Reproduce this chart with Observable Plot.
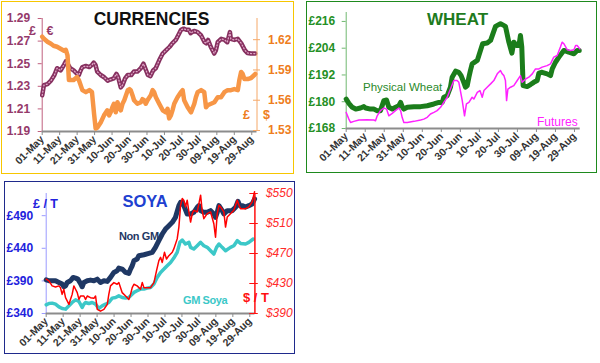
<!DOCTYPE html>
<html><head><meta charset="utf-8">
<script src="https://cdn.jsdelivr.net/npm/d3@7"></script>
<script src="https://cdn.jsdelivr.net/npm/@observablehq/plot@0.6"></script>
<style>
html,body{margin:0;padding:0;background:#fff;width:600px;height:363px;overflow:hidden;font-family:"Liberation Sans",Arial,sans-serif;}
#root{position:relative;width:600px;height:363px;}
.panel{position:absolute;box-sizing:border-box;}
</style></head><body>
<div id="root"></div>
<script>
// ---------- DATA (day = days since 1 May 2012) ----------
const xTicks = ["2012-05-01","2012-05-11","2012-05-21","2012-05-31","2012-06-10","2012-06-20","2012-06-30","2012-07-10","2012-07-20","2012-07-30","2012-08-09","2012-08-19","2012-08-29"];

const eurTicks = [1.19,1.21,1.23,1.25,1.27,1.29];
const usdTicks = [1.53,1.56,1.59,1.62];
const wheatTicks = [168,180,192,204,216];
const soyaGbpTicks = [340,390,440,490];
const soyaUsdTicks = [390,430,470,510,550];

const eurGbp = [[0,1.222],[1,1.231],[3,1.232],[5,1.235],[7,1.240],[8.5,1.246],[10.5,1.244],[12.5,1.249],[13.5,1.252],[14.5,1.250],[16,1.246],[18,1.244],[20,1.241],[21,1.240],[22,1.244],[23,1.247],[25,1.248],[27,1.247],[28.5,1.249],[29.5,1.251],[30.5,1.249],[31.5,1.243],[33.5,1.240],[35.5,1.238],[37.5,1.235],[39,1.236],[41,1.237],[42.5,1.241],[43.5,1.238],[45,1.229],[46,1.231],[47.5,1.237],[49,1.240],[51,1.240],[52.5,1.243],[54.5,1.243],[56.5,1.246],[58,1.250],[59.5,1.244],[60.5,1.240],[62,1.239],[63.5,1.244],[65,1.246],[67,1.253],[69,1.259],[71,1.262],[73,1.265],[74.5,1.268],[76.5,1.271],[78.5,1.277],[79.5,1.280],[81,1.281],[82.5,1.280],[84,1.280],[85,1.277],[87,1.279],[89,1.278],[91,1.275],[93,1.269],[94,1.268],[95,1.271],[96.5,1.265],[98.5,1.259],[99.5,1.262],[100.5,1.269],[102.5,1.272],[104.5,1.271],[106,1.269],[107.5,1.278],[108,1.272],[110,1.271],[112,1.272],[114,1.268],[116,1.262],[117.5,1.2595],[119.5,1.259],[122,1.259]];

const usdGbp = [[0,1.623],[1,1.621],[3,1.618],[5,1.616],[6.5,1.614],[8.5,1.613],[10.5,1.611],[12.5,1.609],[13.5,1.610],[14.5,1.6045],[15.3,1.580],[16.3,1.580],[18,1.580],[20,1.583],[21,1.580],[23,1.570],[25,1.568],[27,1.570],[28.5,1.568],[29.7,1.5465],[30.6,1.532],[31.6,1.533],[33.5,1.538],[35.4,1.545],[37.3,1.550],[38.3,1.545],[39.2,1.548],[40.2,1.553],[41.1,1.5565],[42.1,1.548],[43.1,1.558],[44,1.553],[45,1.550],[46,1.5565],[47,1.560],[48,1.565],[49,1.570],[50,1.571],[50.7,1.570],[51.7,1.565],[52.6,1.560],[54.5,1.5565],[56.5,1.558],[57.4,1.561],[58.4,1.560],[59.3,1.5565],[60.3,1.560],[62.2,1.565],[63.2,1.570],[64.1,1.568],[65.1,1.563],[67,1.5565],[69,1.550],[70.8,1.548],[71.8,1.5515],[72.7,1.542],[73.7,1.545],[74.6,1.550],[75.6,1.5565],[76.6,1.560],[77.5,1.563],[79.4,1.568],[80.4,1.570],[81.3,1.560],[83.3,1.553],[85.2,1.548],[87.1,1.5565],[88,1.563],[89,1.568],[91,1.570],[92.8,1.568],[93.8,1.553],[94.7,1.555],[96.7,1.5565],[98.6,1.558],[100.5,1.563],[102.4,1.563],[104.3,1.568],[106.2,1.570],[108.1,1.570],[110,1.571],[112,1.570],[112.9,1.580],[113.9,1.588],[114.8,1.586],[115.8,1.581],[117.7,1.581],[119.6,1.582],[121.5,1.585],[122,1.586]];

const wheatPhysical = [[0,181.2],[1.4,179.3],[3.2,177.5],[5,176.7],[7.5,177.2],[9.3,177.8],[10.2,177.2],[12.8,176.7],[14.5,176.7],[16.3,176.0],[18,176.0],[19.8,180.5],[21.2,180.8],[22.4,177.5],[24.2,176.7],[26,177.5],[27.7,178.2],[28.6,179.7],[29.4,177.8],[30.3,176.7],[32.1,177.5],[35.6,177.8],[39.1,177.8],[42.6,178.2],[46.1,179.0],[48.7,179.7],[50.5,179.7],[51.3,182.0],[53.1,182.7],[54.8,186.5],[55.7,191.0],[57.5,193.7],[59.2,193.2],[60.4,191.7],[61.8,188.7],[62.7,186.5],[63.6,187.2],[64.5,191.0],[65.3,194.0],[66.2,197.0],[68.9,198.5],[71.7,206.0],[74.1,206.3],[75.9,207.5],[78.5,213.8],[81.1,215.0],[83.7,213.8],[85.5,206.7],[87.1,201.8],[88.1,206.7],[89.5,205.2],[90.8,205.2],[91.6,209.7],[92.3,204.5],[93,187.2],[95.1,186.8],[96.9,187.7],[98.6,188.7],[100.4,189.5],[101.3,192.8],[103,193.2],[105.6,192.5],[107.4,191.7],[108.3,194.7],[110,197.7],[111.8,200.0],[114.4,203.0],[117,202.2],[119.7,201.5],[121.4,203.0],[122.5,203.0]];

const wheatFutures = [[0,175.2],[1.4,172.2],[2.3,170.7],[4,171.2],[6.7,171.8],[11,171.9],[14.5,171.8],[15.4,171.5],[16.3,173.7],[18,176.0],[19.8,177.2],[21.2,176.7],[22.4,173.7],[24.2,174.8],[25.9,176.0],[27.7,177.2],[28.6,176.0],[29.4,173.0],[30.3,170.7],[32.1,170.7],[35.6,171.2],[39.1,171.8],[40.8,172.2],[42.6,173.0],[44.3,174.5],[46.1,175.2],[47.8,176.0],[49.6,177.5],[51.3,179.7],[53.1,182.0],[54.8,185.7],[56.6,189.5],[58.3,189.5],[59.2,188.7],[61,180.5],[62.2,173.7],[63.2,179.0],[64.5,179.7],[66.2,182.0],[67.1,181.2],[68.9,184.2],[70.3,185.0],[71.5,182.0],[72.4,185.0],[74.1,186.5],[75.9,188.0],[77.6,189.5],[79.4,192.5],[81.1,194.0],[82,192.5],[82.9,191.7],[83.7,189.5],[84.3,180.5],[85,185.7],[86.4,186.5],[88.1,187.2],[89.9,189.5],[91.6,191.7],[92.5,188.7],[94.3,190.2],[96,191.0],[97.8,192.5],[99.5,194.7],[101.3,194.7],[103,195.5],[105.6,196.2],[107.4,197.0],[109.1,200.0],[110.9,200.7],[112.6,204.5],[113.5,206.7],[114.4,206.0],[116.2,203.3],[117.9,203.0],[119.7,203.3],[120.6,205.2],[121.4,205.2],[122.8,203.7]];

const soyaNonGM = [[0,391.7],[1.6,390.2],[3.5,390.2],[5.5,390.2],[7.5,387.6],[9.4,385.1],[10.4,381.0],[11.4,382.5],[12.4,387.6],[14.3,390.2],[15.9,395.3],[17.3,394.3],[18.7,392.7],[20.2,386.1],[21.2,381.0],[22.2,387.6],[24.2,390.2],[26.1,391.2],[28.1,390.2],[30.1,392.7],[32,387.6],[34,390.2],[36,389.2],[37.9,395.3],[39.9,403.0],[41.8,405.5],[42.8,409.6],[44.8,408.1],[46.8,403.0],[48.7,401.4],[49.7,408.1],[50.7,413.2],[51.7,420.9],[53.6,423.5],[54.6,428.6],[57.6,430.1],[60.5,432.2],[62.5,433.7],[64.4,441.4],[66.4,451.6],[68.4,461.9],[70.3,469.5],[72.3,474.7],[74.3,479.8],[76.2,487.5],[78.2,505.4],[79.2,510.5],[80.2,510.5],[81.1,505.4],[83.1,492.6],[85.1,492.6],[87,495.1],[89,502.8],[90,505.4],[91,497.7],[92.9,495.1],[94.9,495.1],[96.9,497.7],[98.8,492.6],[99.8,487.5],[100.8,495.1],[101.8,505.4],[103.7,497.7],[104.7,492.6],[106.7,497.7],[109.6,497.7],[111.6,502.8],[113,512.0],[114.1,505.4],[115.5,505.4],[117.5,503.3],[119.4,505.4],[121.4,507.9],[122.8,515.6]];

const soyaGM = [[0,353.3],[1.6,355.4],[3.5,355.9],[5.5,354.3],[7.5,350.2],[9.4,347.7],[11.4,346.7],[13.4,351.8],[15.3,356.9],[17.3,361.0],[19.3,358.4],[21.2,349.2],[22.2,354.3],[23.2,356.9],[25.1,355.4],[27.1,356.9],[29.1,354.3],[31,347.7],[33,351.8],[35,354.3],[36.9,356.9],[38.9,363.6],[40.9,364.6],[42.8,367.1],[44.8,364.6],[46.8,363.6],[48.7,364.6],[49.7,367.1],[51.7,372.3],[53.6,374.8],[55.6,377.4],[57.6,377.4],[59.5,378.9],[61.5,379.9],[63.5,385.1],[65.4,395.3],[67.4,403.0],[69.4,408.1],[71.3,413.2],[73.3,418.3],[75.2,425.0],[77.2,433.7],[78.8,449.1],[80.2,452.6],[82.1,446.5],[84.1,449.1],[85.1,441.4],[87,438.8],[89,443.9],[91,449.1],[92.9,443.9],[94.9,441.4],[96.9,436.3],[98.8,431.1],[100.4,441.4],[101.8,446.5],[103.7,441.4],[105.7,436.3],[108.6,441.4],[110.6,443.9],[112.6,451.6],[114.5,447.5],[117.5,446.5],[119.4,449.1],[122,454.2]];

const soyaUsd = [[0,435.7],[1.6,433.5],[3.5,426.8],[5.5,425.4],[7.5,426.8],[8.4,424.5],[9.4,415.5],[10.4,422.3],[11.4,411.1],[13.4,402.1],[14.3,408.8],[15.3,415.5],[16.3,426.8],[17.3,422.3],[18.3,417.8],[19.3,408.8],[20.2,413.3],[22.2,413.3],[23.2,408.8],[24.2,413.3],[26.1,411.1],[28.1,410.2],[29.1,413.3],[30.1,395.4],[32,393.1],[34,395.4],[36,402.1],[36.9,415.5],[37.9,426.8],[39.9,431.2],[41.8,429.0],[42.8,431.2],[44.8,417.8],[46.8,413.3],[48.7,408.8],[49.7,415.5],[50.7,424.5],[51.7,429.0],[53.6,426.8],[55.6,422.3],[56.6,431.2],[57.6,424.5],[59.5,424.5],[61.5,424.5],[63.5,431.2],[65,446.9],[66.4,460.4],[67.4,464.9],[68.4,458.1],[69.7,471.6],[70.9,462.6],[72.3,467.1],[74.3,471.6],[75.2,476.1],[77.2,489.5],[78.2,505.2],[79.2,534.3],[80.2,543.3],[81.1,541.1],[82.1,532.1],[83.1,541.1],[84.1,525.4],[85.1,511.9],[86.1,523.1],[87,527.6],[89,525.4],[90,536.6],[91,547.8],[91.9,527.6],[92.9,516.4],[94.9,523.1],[96.9,525.4],[98.8,509.7],[99.8,491.7],[100.8,523.1],[101.8,534.3],[102.8,532.1],[104.7,525.4],[105.7,505.2],[106.7,518.6],[108.6,523.1],[110.6,527.6],[112.6,541.1],[113.6,534.3],[114.5,529.8],[117.5,529.8],[119.4,532.1],[121.4,538.8],[122.8,552.3]];

// ---------- HELPERS ----------
const root = document.getElementById("root");
const t0 = Date.UTC(2012, 4, 1);
const rows = a => a.map(([d, v]) => ({date: new Date(t0 + d * 864e5), value: v}));
const xDomain = [new Date(t0), new Date(Date.UTC(2012, 8, 1))];
const tickDates = xTicks.map(s => new Date(s + "T00:00:00Z"));
const FONT = '"Liberation Sans", Arial, sans-serif';

function panel(left, top, w, h, color) {
  const d = document.createElement("div");
  d.className = "panel";
  Object.assign(d.style, {left: left + "px", top: top + "px", width: w + "px", height: h + "px", border: "1.5px solid " + color});
  root.appendChild(d);
}
function place(svg, left, top) {
  Object.assign(svg.style, {position: "absolute", left: left + "px", top: top + "px", background: "transparent", overflow: "visible", maxWidth: "none"});
  root.appendChild(svg);
}
function xAxis() {
  return Plot.axisX({ticks: tickDates, tickFormat: d3.utcFormat("%d-%b"), tickRotate: -45, tickSize: 4, tickPadding: 2,
    stroke: "#8c8c8c", fill: "#333", fontWeight: "bold", fontSize: 10.5, fontFamily: FONT, label: null});
}

// panel borders
panel(1, 1, 293, 172.5, "#f7c600");
panel(305.5, 1, 291, 171.5, "#1e8a1e");
panel(3.5, 180.5, 291, 173.5, "#1f2a8c");

// ---------- CURRENCIES ----------
const curDom = [1.19, 1.29];
const usdDom = [1.529, 1.641];
const curBox = {width: 300, height: 180, marginLeft: 41.7, marginRight: 43.5, marginTop: 18, marginBottom: 49};
place(Plot.plot({
  ...curBox, style: {fontFamily: FONT},
  x: {type: "utc", domain: xDomain, label: null},
  y: {domain: curDom, label: null},
  marks: [
    Plot.ruleX([xDomain[0]], {y1: curDom[0], y2: curDom[1], stroke: "#c0607f"}),
    Plot.axisY({ticks: eurTicks, tickFormat: d3.format(".2f"), tickSize: 4, tickPadding: 8, stroke: "#c0607f",
      fill: "#953a6a", fontWeight: "bold", fontSize: 12, fontFamily: FONT, label: null}),
    Plot.ruleY([curDom[0]], {stroke: "#8c8c8c", strokeWidth: 2}),
    xAxis(),
    Plot.line(rows(eurGbp), {x: "date", y: "value", stroke: "#86305f", strokeWidth: 4.5, strokeLinejoin: "round"}),
    Plot.line(rows(eurGbp), {x: "date", y: "value", stroke: "#e0a6c8", strokeWidth: 1.3, strokeDasharray: "1 2.2"})
  ]
}), 0, 0);
place(Plot.plot({
  ...curBox, style: {fontFamily: FONT},
  x: {type: "utc", domain: xDomain, axis: null, label: null},
  y: {domain: usdDom, label: null},
  marks: [
    Plot.ruleX([xDomain[1]], {y1: usdDom[0], y2: usdDom[1], stroke: "#f5a868"}),
    Plot.ruleY(usdTicks, {x1: d3.utcDay.offset(xDomain[1], -2), x2: d3.utcDay.offset(xDomain[1], 2), stroke: "#f5a868"}),
    Plot.axisY({anchor: "right", ticks: usdTicks, tickFormat: d3.format(".2f"), tickSize: 0, tickPadding: 11,
      fill: "#ee7d20", fontWeight: "bold", fontSize: 12, fontFamily: FONT, label: null}),
    Plot.line(rows(usdGbp), {x: "date", y: "value", stroke: "#f79646", strokeWidth: 4.5, strokeLinejoin: "round"})
  ]
}), 0, 0);

// ---------- WHEAT ----------
const wheatDom = [168, 220];
place(Plot.plot({
  width: 300, height: 180, marginLeft: 45.7, marginRight: 20.3, marginTop: 12, marginBottom: 52,
  style: {fontFamily: FONT},
  x: {type: "utc", domain: xDomain, label: null},
  y: {domain: wheatDom, label: null},
  marks: [
    Plot.ruleX([xDomain[0]], {y1: wheatDom[0], y2: wheatDom[1], stroke: "#70b870"}),
    Plot.axisY({ticks: wheatTicks, tickFormat: d => "£" + d, tickSize: 4, tickPadding: 7, stroke: "#70b870",
      fill: "#259025", fontWeight: "bold", fontSize: 12, fontFamily: FONT, label: null}),
    Plot.ruleY([wheatDom[0]], {stroke: "#8c8c8c", strokeWidth: 2}),
    xAxis(),
    Plot.line(rows(wheatPhysical), {x: "date", y: "value", stroke: "#1b7d1b", strokeWidth: 5, strokeLinejoin: "round"}),
    Plot.line(rows(wheatFutures), {x: "date", y: "value", stroke: "#ff22ff", strokeWidth: 1.5, strokeLinejoin: "round"})
  ]
}), 300, 0);

// ---------- SOYA ----------
const gbpDom = [340, 524];
const usdTDom = [390, 550];
const soyaBox = {width: 300, height: 183, marginLeft: 45.7, marginRight: 45.6, marginTop: 13, marginBottom: 50};
place(Plot.plot({
  ...soyaBox, style: {fontFamily: FONT},
  x: {type: "utc", domain: xDomain, label: null},
  y: {domain: gbpDom, label: null},
  marks: [
    Plot.ruleX([xDomain[0]], {y1: gbpDom[0], y2: gbpDom[1], stroke: "#9a9aff"}),
    Plot.axisY({ticks: soyaGbpTicks, tickFormat: d => "£" + d, tickSize: 4, tickPadding: 9, stroke: "#9a9aff",
      fill: "#2222dd", fontWeight: "bold", fontSize: 12, fontFamily: FONT, label: null}),
    Plot.ruleY([gbpDom[0]], {stroke: "#8c8c8c", strokeWidth: 2}),
    xAxis(),
    Plot.line(rows(soyaGM), {x: "date", y: "value", stroke: "#3cc8c8", strokeWidth: 3.5, strokeLinejoin: "round"}),
    Plot.line(rows(soyaNonGM), {x: "date", y: "value", stroke: "#1f3864", strokeWidth: 5, strokeLinejoin: "round"})
  ]
}), 0, 180);
place(Plot.plot({
  ...soyaBox, style: {fontFamily: FONT},
  x: {type: "utc", domain: xDomain, axis: null, label: null},
  y: {domain: usdTDom, label: null},
  marks: [
    Plot.ruleX([xDomain[1]], {y1: usdTDom[0], y2: usdTDom[1], stroke: "#ff1010", strokeWidth: 1.5}),
    Plot.ruleY(soyaUsdTicks, {x1: d3.utcDay.offset(xDomain[1], -2.5), x2: d3.utcDay.offset(xDomain[1], 2.5), stroke: "#ff1010"}),
    Plot.axisY({anchor: "right", ticks: soyaUsdTicks, tickFormat: d => "$" + d, tickSize: 0, tickPadding: 11,
      fill: "#ff2a2a", fontStyle: "italic", fontSize: 12, fontFamily: FONT, label: null}),
    Plot.line(rows(soyaUsd), {x: "date", y: "value", stroke: "#ff0000", strokeWidth: 1.5, strokeLinejoin: "round"})
  ]
}), 0, 180);

// ---------- TITLES & LABELS ----------
const labels = [
  {t: "CURRENCIES", x: 151.5, y: 24.5, s: 17.5, w: "bold", c: "#111", a: "middle", ls: 0},
  {t: "£", x: 29, y: 35, s: 12.5, w: "bold", c: "#953a6a", a: "start", ls: 0},
  {t: "€", x: 46.5, y: 35, s: 12.5, w: "bold", c: "#953a6a", a: "start", ls: 0},
  {t: "£", x: 243, y: 118.5, s: 12.5, w: "bold", c: "#ee7d20", a: "start", ls: 0},
  {t: "$", x: 263, y: 118.5, s: 12.5, w: "bold", c: "#ee7d20", a: "start", ls: 0},
  {t: "WHEAT", x: 457.5, y: 25, s: 17, w: "bold", c: "#1e7b1e", a: "middle", ls: 0},
  {t: "Physical Wheat", x: 363, y: 91, s: 11.5, w: "normal", c: "#2a8a2a", a: "start", ls: 0},
  {t: "Futures", x: 537, y: 125.5, s: 12, w: "normal", c: "#ff22ff", a: "start", ls: 0},
  {t: "SOYA", x: 145, y: 207, s: 16.5, w: "bold", c: "#2040d0", a: "middle", ls: 0},
  {t: "£ / T", x: 33, y: 208, s: 12.5, w: "bold", c: "#2222dd", a: "start", ls: 0},
  {t: "$ / T", x: 243, y: 301.5, s: 13, w: "bold", c: "#ff1010", a: "start", ls: 0},
  {t: "Non GM", x: 119, y: 239.5, s: 11, w: "bold", c: "#1f3864", a: "start", ls: -0.4},
  {t: "GM Soya", x: 183, y: 304, s: 11, w: "bold", c: "#3cc8c8", a: "start", ls: -0.4}
];
const ov = d3.create("svg").attr("width", 600).attr("height", 363)
  .style("position", "absolute").style("left", "0px").style("top", "0px").style("pointer-events", "none");
ov.selectAll("text").data(labels).join("text")
  .attr("x", d => d.x).attr("y", d => d.y).attr("text-anchor", d => d.a)
  .attr("font-family", FONT).attr("font-size", d => d.s).attr("font-weight", d => d.w)
  .attr("letter-spacing", d => d.ls).attr("fill", d => d.c).text(d => d.t);
root.appendChild(ov.node());
</script>
</body></html>
